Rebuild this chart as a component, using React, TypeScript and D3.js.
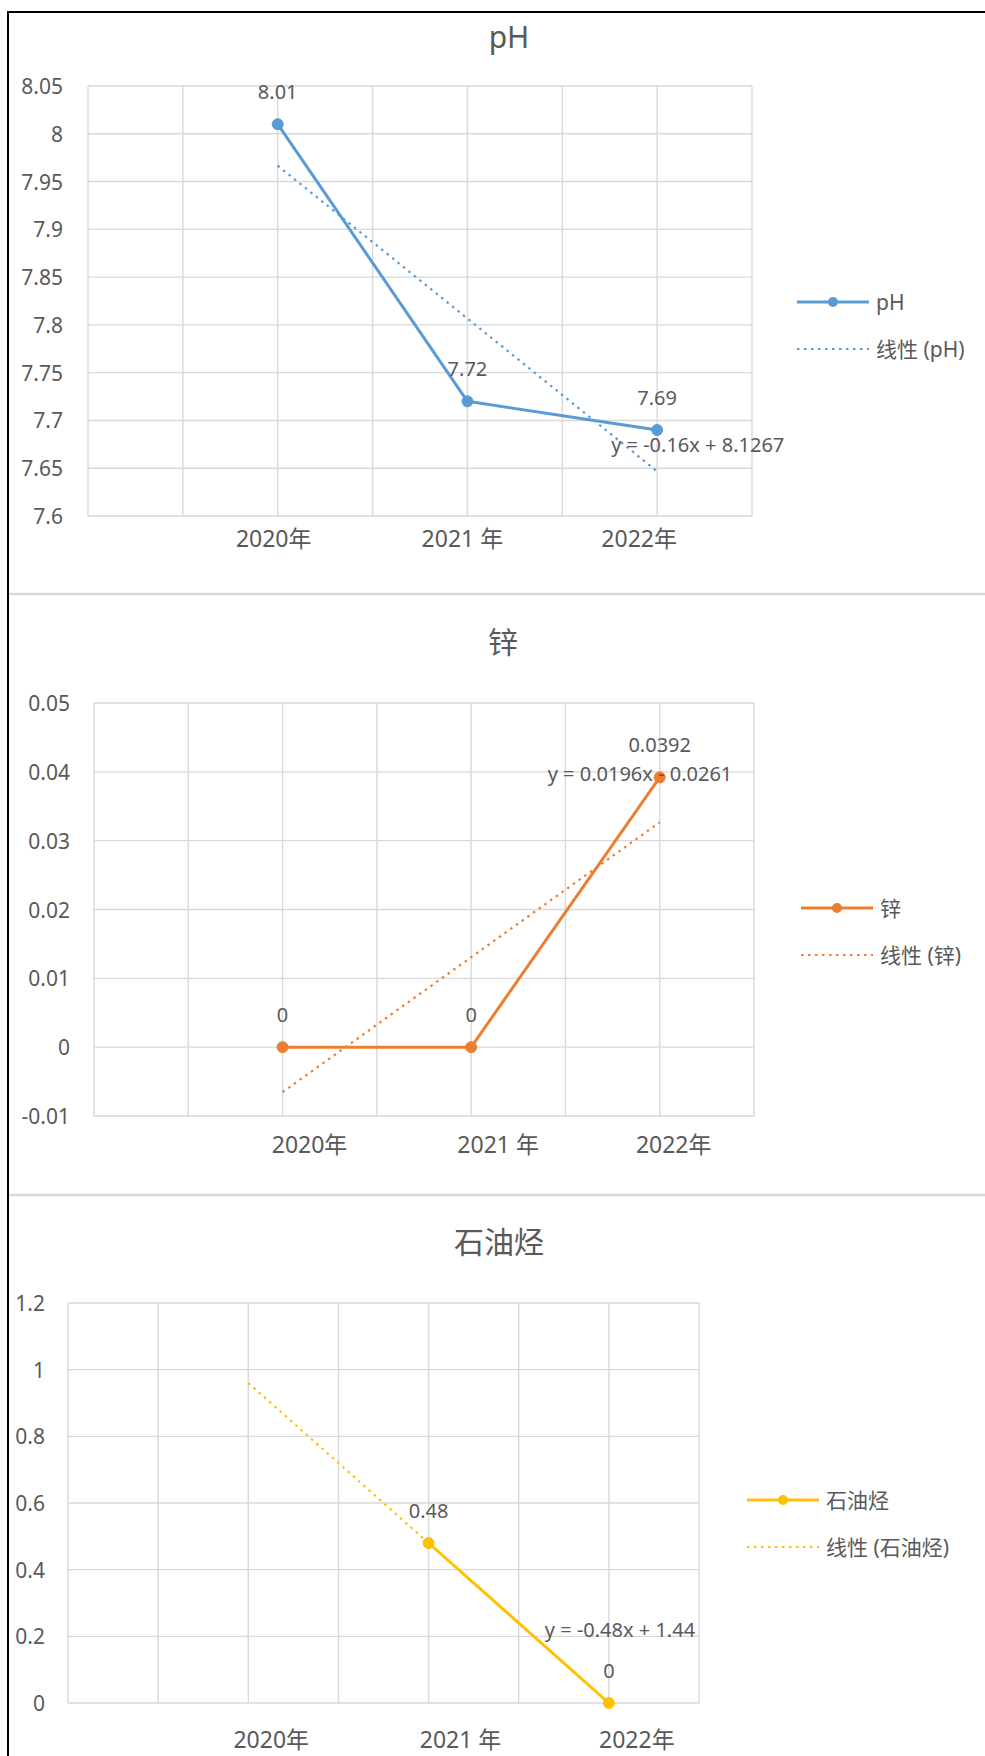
import React from "react";
import * as d3 from "d3";

// ---- data ----
const years = ["2020年", "2021 年", "2022年"];
const phValues: (number | null)[] = [8.01, 7.72, 7.69];
const zincValues: (number | null)[] = [0, 0, 0.0392];
const tphValues: (number | null)[] = [null, 0.48, 0];

const phTicks = [7.6, 7.65, 7.7, 7.75, 7.8, 7.85, 7.9, 7.95, 8, 8.05];
const zincTicks = [-0.01, 0, 0.01, 0.02, 0.03, 0.04, 0.05];
const tphTicks = [0, 0.2, 0.4, 0.6, 0.8, 1, 1.2];

// ---- layout / style ----
const W = 985;
const H = 1756;
const FONT = "'Noto Sans', 'Noto Sans CJK SC', sans-serif";
const TEXT = "#595959";
const GRID = "#D9D9D9";

type Panel = {
  title: string;
  values: (number | null)[];
  ticks: number[];
  color: string;
  frame: { left: number; right: number; top: number; bottom: number };
  titleX: number;
  titleY: number;
  tickRight: number;
  xLabelY: number;
  xLabelDx: number[];
  legendX: number;
  legendY: number;
  eqDx: number;
  eqDy: number;
};

const panels: Panel[] = [
  {
    title: "pH",
    values: phValues,
    ticks: phTicks,
    color: "#5B9BD5",
    frame: { left: 88, right: 752, top: 86, bottom: 516 },
    titleX: 509,
    titleY: 36,
    tickRight: 63,
    xLabelY: 538,
    xLabelDx: [-4, -5, -18],
    legendX: 797,
    legendY: 302,
    eqDx: -46,
    eqDy: -27,
  },
  {
    title: "锌",
    values: zincValues,
    ticks: zincTicks,
    color: "#ED7D31",
    frame: { left: 94, right: 754, top: 703, bottom: 1116 },
    titleX: 503,
    titleY: 641,
    tickRight: 70,
    xLabelY: 1144,
    xLabelDx: [27, 27, 14],
    legendX: 801,
    legendY: 908,
    eqDx: -112,
    eqDy: -49,
  },
  {
    title: "石油烃",
    values: tphValues,
    ticks: tphTicks,
    color: "#FFC000",
    frame: { left: 68, right: 699, top: 1303, bottom: 1703 },
    titleX: 499,
    titleY: 1241,
    tickRight: 45,
    xLabelY: 1739,
    xLabelDx: [23, 32, 28],
    legendX: 747,
    legendY: 1500,
    eqDx: -64,
    eqDy: -74,
  },
];

// least-squares fit on x = 1..n (category trendline)
function linearFit(values: (number | null)[]) {
  const pts = values
    .map((v, i) => ({ x: i + 1, y: v }))
    .filter((p) => p.y !== null) as { x: number; y: number }[];
  const mx = d3.mean(pts, (p) => p.x)!;
  const my = d3.mean(pts, (p) => p.y)!;
  const sxy = d3.sum(pts, (p) => (p.x - mx) * (p.y - my));
  const sxx = d3.sum(pts, (p) => (p.x - mx) ** 2);
  const slope = sxy / sxx;
  const intercept = my - slope * mx;
  return { slope, intercept };
}

const num = (v: number) => String(+v.toFixed(4));

function equation(slope: number, intercept: number) {
  const sign = intercept < 0 ? " - " : " + ";
  return `y = ${num(slope)}x${sign}${num(Math.abs(intercept))}`;
}

function ChartPanel({ p }: { p: Panel }) {
  const { left, right, top, bottom } = p.frame;
  // eight category slots; the three years sit on slots 2, 4, 6
  const x = d3.scaleLinear().domain([-1, 2.5]).range([left, right]);
  const y = d3
    .scaleLinear()
    .domain([p.ticks[0], p.ticks[p.ticks.length - 1]])
    .range([bottom, top]);
  const vGrid = d3.range(-1, 2.51, 0.5);

  const line = d3
    .line<number | null>()
    .defined((d) => d !== null)
    .x((_, i) => x(i))
    .y((d) => y(d as number));

  const fit = linearFit(p.values);
  const trendPts = p.values.map((_, i) => ({
    i,
    v: fit.slope * (i + 1) + fit.intercept,
  }));
  const trendLine = d3
    .line<{ i: number; v: number }>()
    .x((d) => x(d.i))
    .y((d) => y(d.v));
  const lastTrend = trendPts[trendPts.length - 1];

  const dotted = { strokeDasharray: "2.5 4.5", strokeWidth: 2.2 };

  return (
    <g fontFamily={FONT}>
      <text
        x={p.titleX}
        y={p.titleY}
        textAnchor="middle"
        dominantBaseline="central"
        fontSize={30}
        fill={TEXT}
      >
        {p.title}
      </text>

      {/* gridlines */}
      {p.ticks.map((t) => (
        <line key={"h" + t} x1={left} x2={right} y1={y(t)} y2={y(t)} stroke={GRID} strokeWidth={1.4} />
      ))}
      {vGrid.map((g) => (
        <line key={"v" + g} x1={x(g)} x2={x(g)} y1={top} y2={bottom} stroke={GRID} strokeWidth={1.4} />
      ))}

      {/* y tick labels */}
      {p.ticks.map((t) => (
        <text
          key={"t" + t}
          x={p.tickRight}
          y={y(t)}
          textAnchor="end"
          dominantBaseline="central"
          fontSize={21}
          fill={TEXT}
        >
          {num(t)}
        </text>
      ))}

      {/* category labels */}
      {years.map((yr, i) => (
        <text
          key={yr}
          x={x(i) + p.xLabelDx[i]}
          y={p.xLabelY}
          textAnchor="middle"
          dominantBaseline="central"
          fontSize={23}
          fill={TEXT}
        >
          {yr}
        </text>
      ))}

      {/* series */}
      <path d={line(p.values) || ""} fill="none" stroke={p.color} strokeWidth={3} strokeLinejoin="round" />
      {/* linear trendline */}
      <path d={trendLine(trendPts) || ""} fill="none" stroke={p.color} {...dotted} />

      {p.values.map((v, i) =>
        v === null ? null : (
          <g key={"m" + i}>
            <circle cx={x(i)} cy={y(v)} r={5.5} fill={p.color} stroke={p.color} strokeWidth={1} />
            <text
              x={x(i)}
              y={y(v) - 33}
              textAnchor="middle"
              dominantBaseline="central"
              fontSize={20}
              fill={TEXT}
            >
              {num(v)}
            </text>
          </g>
        )
      )}

      {/* trendline equation */}
      <text
        x={x(lastTrend.i) + p.eqDx}
        y={y(lastTrend.v) + p.eqDy}
        dominantBaseline="central"
        fontSize={20}
        fill={TEXT}
      >
        {equation(fit.slope, fit.intercept)}
      </text>

      {/* legend */}
      <line x1={p.legendX} x2={p.legendX + 72} y1={p.legendY} y2={p.legendY} stroke={p.color} strokeWidth={3} />
      <circle cx={p.legendX + 36} cy={p.legendY} r={5} fill={p.color} />
      <text x={p.legendX + 79} y={p.legendY} dominantBaseline="central" fontSize={21} fill={TEXT}>
        {p.title}
      </text>
      <line
        x1={p.legendX}
        x2={p.legendX + 72}
        y1={p.legendY + 47}
        y2={p.legendY + 47}
        stroke={p.color}
        {...dotted}
      />
      <text x={p.legendX + 79} y={p.legendY + 47} dominantBaseline="central" fontSize={21} fill={TEXT}>
        {`线性 (${p.title})`}
      </text>
    </g>
  );
}

export default function App() {
  return (
    <div style={{ position: "absolute", left: 0, top: 0, background: "#fff" }}>
      <svg width={W} height={H} viewBox={`0 0 ${W} ${H}`} style={{ display: "block" }}>
        <rect x={0} y={0} width={W} height={H} fill="#fff" />
        {/* panel separators */}
        <line x1={9} x2={W} y1={594} y2={594} stroke={GRID} strokeWidth={2.5} />
        <line x1={9} x2={W} y1={1195} y2={1195} stroke={GRID} strokeWidth={2.5} />
        {/* outer frame */}
        <line x1={8} x2={W} y1={12} y2={12} stroke="#000" strokeWidth={2} />
        <line x1={8} x2={8} y1={11} y2={H} stroke="#000" strokeWidth={2} />
        {panels.map((p) => (
          <ChartPanel key={p.title} p={p} />
        ))}
      </svg>
    </div>
  );
}
